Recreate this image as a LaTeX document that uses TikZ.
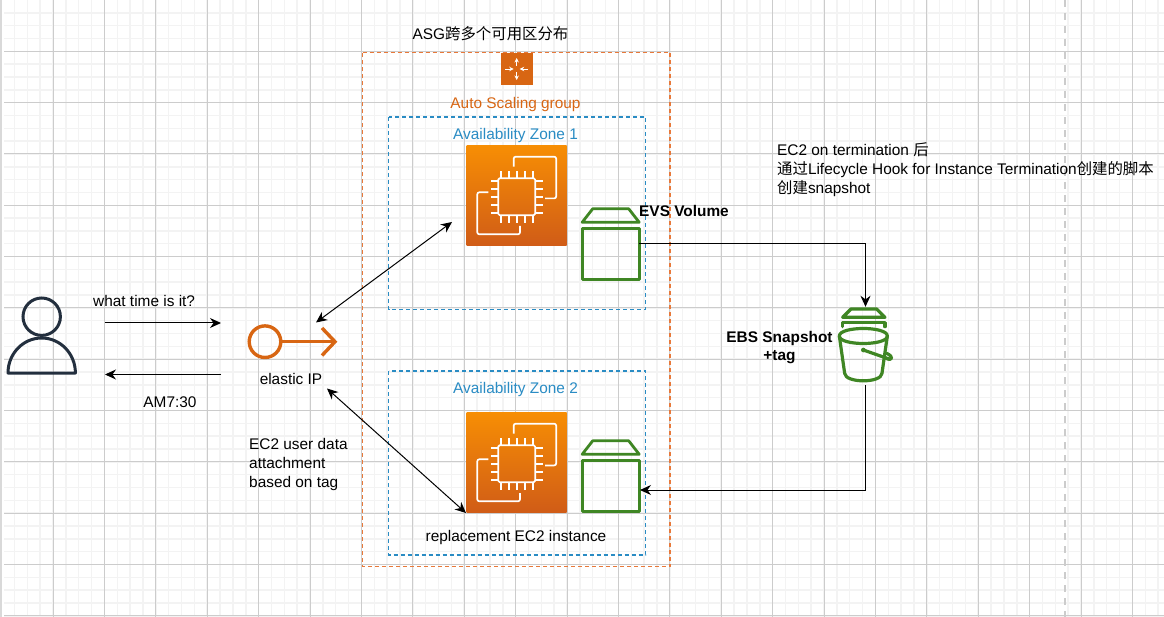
\documentclass[tikz,border=0pt]{standalone}
\usepackage{fontspec}
\setmainfont{Liberation Sans}
\newfontfamily\cjk{Noto Sans CJK SC}
\usetikzlibrary{arrows.meta,calc}
\definecolor{gridmaj}{HTML}{CCCCCC}
\definecolor{gridmin}{HTML}{F3F3F3}
\definecolor{awsorange}{HTML}{D86613}
\definecolor{asgline}{HTML}{E8793A}
\definecolor{azblue}{HTML}{2A8CC4}
\definecolor{awsgreen}{HTML}{3F8624}
\definecolor{awsdark}{HTML}{232F3E}
\definecolor{ecTop}{HTML}{F78E04}
\definecolor{ecBot}{HTML}{D05C17}
\tikzset{
  x=1pt,y=-1pt,
  lbl/.style={font=\fontsize{15.4}{19}\selectfont,inner sep=0pt,text=black},
  blbl/.style={lbl,font=\fontsize{15.4}{18.6}\selectfont\bfseries},
  conn/.style={draw=black,line width=1pt,-{Stealth[length=11pt,width=10pt]}},
  dconn/.style={draw=black,line width=1pt,{Stealth[length=11pt,width=10pt]}-{Stealth[length=11pt,width=10pt]}},
  ec2box/.style={rectangle,minimum width=100pt,minimum height=100pt,inner sep=0pt,top color=ecTop,bottom color=ecBot,draw=none},
  hitbox/.style={rectangle,draw=none,inner sep=0pt},
  whiteln/.style={draw=white,line width=1.7pt,line join=round},
  greenln/.style={draw=awsgreen,line width=2.8pt,line join=round},
  ec2icon/.pic={
    \draw[whiteln,rounded corners=1.5pt] (-18.5,-18.5) rectangle (18.5,18.5);
    \draw[whiteln,rounded corners=2pt] (-3,-30) -- (-3,-40) -- (39.5,-40) -- (39.5,1.7) -- (28.3,1.7);
    \draw[whiteln,rounded corners=2pt] (-28.4,-4.4) -- (-39.4,-4.4) -- (-39.4,37.6) -- (3.3,37.6) -- (3.3,29.3);
    \foreach \t in {-16,-8,0,8,16}{
      \draw[whiteln] (\t,-18.5) -- (\t,-26);
      \draw[whiteln] (\t,18.5) -- (\t,26);
      \draw[whiteln] (-18.5,\t) -- (-26,\t);
      \draw[whiteln] (18.5,\t) -- (26,\t);
    }
  },
  volicon/.pic={
    \draw[greenln] (-28.5,-15.5) rectangle (28.5,35.5);
    \draw[greenln] (-28.5,-21.5) -- (28.5,-21.5) -- (18,-35) -- (-18,-35) -- cycle;
  },
}
\begin{document}
\begin{tikzpicture}
\useasboundingbox (0,0) rectangle (1164,617);
\fill[white] (0,0) rectangle (1164,617);
% minor grid
\foreach \k in {-4,...,86}{
  \pgfmathsetmacro{\gx}{53+12.85*\k}
  \draw[gridmin,line width=1.5pt] (\gx,0) -- (\gx,617);
}
\foreach \k in {-3,...,44}{
  \pgfmathsetmacro{\gy}{51.3+12.83*\k}
  \draw[gridmin,line width=1.5pt] (4,\gy) -- (1164,\gy);
}
% major grid
\foreach \k in {0,...,21}{
  \pgfmathsetmacro{\gx}{53+51.4*\k}
  \draw[gridmaj,line width=1pt] (\gx,0) -- (\gx,617);
}
\foreach \k in {0,...,11}{
  \pgfmathsetmacro{\gy}{51.3+51.3*\k}
  \draw[gridmaj,line width=1pt] (4,\gy) -- (1164,\gy);
}
\fill[gray!30] (0,0) rectangle (2,617);
\draw[gridmaj,line width=2pt,dash pattern=on 7pt off 6pt] (1064.7,0) -- (1064.7,617);
% containers
\draw[asgline,line width=1.2pt,dash pattern=on 4pt off 3pt] (362.7,52.5) -- (670,52.5) -- (670,566.7) -- (362.7,566.7) -- cycle;
\draw[azblue,line width=1.2pt,dash pattern=on 4pt off 3pt] (388.5,117) rectangle (645.5,309.5);
\draw[azblue,line width=1.2pt,dash pattern=on 4pt off 3pt] (388.5,371) rectangle (645.5,555);
% asg icon
\node[rectangle,fill=awsorange,minimum width=32pt,minimum height=32pt,inner sep=0pt] (asg) at (516.7,69) {};
\begin{scope}[shift={(516.7,69)},draw=white,line width=.9pt,>={Stealth[length=4.5pt,width=4.5pt]}]
  \draw[->] (0,-3.3) -- (0,-11);
  \draw[->] (0,3.3) -- (0,11);
  \draw[->] (-11.5,0) -- (-3,0);
  \draw[->] (11.5,0) -- (3,0);
\end{scope}
% EC2
\node[ec2box] (ec2a) at (516.7,195.7) {};
\pic at (516.7,196.7) {ec2icon};
\node[ec2box] (ec2b) at (516.7,462.7) {};
\pic at (516.7,463.7) {ec2icon};
% volumes
\node[hitbox,minimum width=57pt,minimum height=73pt] (vol1) at (610.7,243.7) {};
\pic at (610.7,243.8) {volicon};
\node[hitbox,minimum width=57pt,minimum height=73pt] (vol2) at (610.7,475.7) {};
\pic at (610.7,475.8) {volicon};
% user
\node[hitbox,minimum width=70pt,minimum height=76pt] (user) at (41.7,335) {};
\draw[awsdark,line width=3pt] (41.7,316.7) circle[radius=18.7];
\draw[awsdark,line width=3pt,line join=round] (8,373) arc[start angle=180,end angle=0,x radius=33.7,y radius=-35] -- cycle;
% elastic IP
\node[hitbox,minimum width=90pt,minimum height=36pt] (eip) at (292,341.7) {};
\draw[awsorange,line width=3.4pt] (265,341.7) circle[radius=15.8];
\draw[awsorange,line width=3.4pt] (281,341.7) -- (334.5,341.7);
\draw[awsorange,line width=3.4pt] (322,328) -- (335,341.7) -- (322,355.5);
% bucket
\node[hitbox,minimum width=56pt,minimum height=78pt] (bucket) at (865.5,346) {};
\begin{scope}[shift={(720,290)},xscale=.3333,yscale=.3333,awsgreen,line width=3.2pt,line join=round,line cap=round]
  \draw (368,82) -- (495,82) -- (470,57) -- (393,57) -- cycle;
  \draw (368,110) -- (368,98) -- (495,98) -- (495,110);
  \draw (358,138) .. controls (358,108) and (502,108) .. (502,138) .. controls (502,168) and (358,168) .. (358,138);
  \draw (358,138) -- (374,250) .. controls (376,280) and (484,280) .. (486,250) -- (502,138);
  \draw (430,180) -- (510,208);
  \fill (430,180) circle[radius=7];
  \draw (500,190) .. controls (522,200) and (518,214) .. (498,205);
\end{scope}
% coordinates
\coordinate (u1s) at (105,323);
\coordinate (u1e) at (221,323);
\coordinate (u2s) at (221,374.5);
\coordinate (u2e) at (105,374.5);
\coordinate (eipa) at (316,322.5);
\coordinate (eipb) at (327,388.5);
\coordinate (ec2ain) at (452,222);
\coordinate (ec2bin) at (466,513);
\coordinate (vol2in) at (640,490);
% connectors
\draw[conn] (u1s) -- (u1e);
\draw[conn] (u2s) -- (u2e);
\draw[dconn] (ec2ain) -- (eipa);
\draw[dconn] (eipb) -- (ec2bin);
\draw[conn] (vol1.east) -| (bucket.north);
\draw[conn] (bucket.south) |- (vol2in);
% labels
\node[lbl,anchor=center] (t1) at (490.5,34) {ASG{\cjk 跨多个可用区分布}};
\node[lbl,anchor=center,text=awsorange] (t2) at (515.5,104.5) {Auto Scaling group};
\node[lbl,anchor=center,text=azblue] (t3) at (515.5,135.5) {Availability Zone 1};
\node[lbl,anchor=center,text=azblue] (t4) at (515.5,389.5) {Availability Zone 2};
\node[blbl,anchor=west] (t5) at (639,211) {EVS Volume};
\node[lbl,anchor=west,align=left] (t6) at (777,169.5) {EC2 on termination {\cjk 后}\\{\cjk 通过}Lifecycle Hook for Instance Termination{\cjk 创建的脚本}\\{\cjk 创建}snapshot};
\node[lbl,anchor=west] (t7) at (93,301) {what time is it?};
\node[lbl,anchor=center] (t8) at (170,402) {AM7:30};
\node[lbl,anchor=center] (t9) at (291,379) {elastic IP};
\node[lbl,anchor=west,align=left] (t10) at (249,465) {EC2 user data\\attachment\\based on tag};
\node[lbl,anchor=center] (t11) at (516,537.5) {replacement EC2 instance};
\node[blbl,anchor=center,align=center] (t12) at (779.5,347.5) {EBS Snapshot\\+tag};
\end{tikzpicture}
\end{document}
